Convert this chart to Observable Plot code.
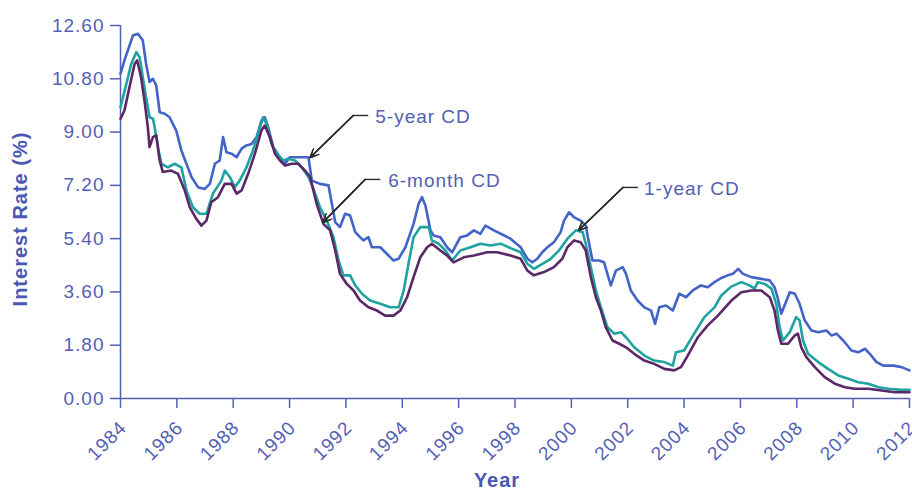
<!DOCTYPE html>
<html>
<head>
<meta charset="utf-8">
<script src="https://cdn.jsdelivr.net/npm/d3@7"></script>
<script src="https://cdn.jsdelivr.net/npm/@observablehq/plot@0.6"></script>
<style>
  html, body { margin: 0; padding: 0; background: #ffffff; }
  #chart { width: 912px; height: 490px; }
  #chart svg text { letter-spacing: 1px; }
</style>
</head>
<body>
<div id="chart"></div>
<script>
// ---- Data ----
const seriesNames = ["5-year CD", "1-year CD", "6-month CD"];
const seriesColors = ["#4264c6", "#1fa3a0", "#5a2866"];

const xTicks = [1984, 1986, 1988, 1990, 1992, 1994, 1996, 1998, 2000, 2002, 2004, 2006, 2008, 2010, 2012];
const yTicks = [0, 1.8, 3.6, 5.4, 7.2, 9.0, 10.8, 12.6];

const fiveYearCD = [
  [1984.0,10.97],[1984.14,11.42],[1984.44,12.26],[1984.62,12.32],[1984.79,12.1],[1984.91,11.3],
  [1985.03,10.69],[1985.15,10.8],[1985.27,10.57],[1985.39,9.67],[1985.57,9.62],[1985.74,9.5],
  [1985.98,9.05],[1986.16,8.38],[1986.34,7.93],[1986.52,7.48],[1986.75,7.14],[1986.99,7.08],
  [1987.17,7.25],[1987.35,7.93],[1987.52,8.04],[1987.64,8.83],[1987.76,8.32],[1987.94,8.27],
  [1988.12,8.15],[1988.3,8.44],[1988.47,8.55],[1988.65,8.6],[1988.83,8.83],[1989.0,9.39],
  [1989.12,9.5],[1989.24,9.17],[1989.42,8.49],[1989.66,8.15],[1989.84,7.93],[1990.01,8.15],
  [1990.31,8.15],[1990.67,8.15],[1990.79,7.36],[1991.08,7.25],[1991.38,7.2],[1991.5,6.58],
  [1991.62,5.96],[1991.79,5.79],[1991.97,6.24],[1992.15,6.18],[1992.33,5.62],[1992.5,5.45],
  [1992.62,5.34],[1992.8,5.45],[1992.92,5.11],[1993.22,5.11],[1993.45,4.89],[1993.69,4.66],
  [1993.87,4.72],[1994.11,5.11],[1994.4,5.9],[1994.58,6.58],[1994.7,6.8],[1994.82,6.52],
  [1995.0,5.68],[1995.11,5.51],[1995.35,5.45],[1995.59,5.11],[1995.77,4.94],[1996.06,5.45],
  [1996.3,5.51],[1996.54,5.68],[1996.77,5.56],[1996.95,5.84],[1997.25,5.68],[1997.55,5.54],
  [1997.84,5.4],[1998.2,5.11],[1998.44,4.72],[1998.62,4.6],[1998.79,4.72],[1998.97,4.94],
  [1999.15,5.11],[1999.38,5.28],[1999.62,5.62],[1999.74,6.01],[1999.92,6.29],[2000.1,6.12],
  [2000.33,6.01],[2000.51,5.84],[2000.63,5.23],[2000.75,4.66],[2000.98,4.66],[2001.16,4.6],
  [2001.4,3.82],[2001.58,4.32],[2001.82,4.44],[2001.94,4.21],[2002.11,3.65],[2002.35,3.31],
  [2002.59,3.08],[2002.83,2.97],[2002.97,2.52],[2003.12,3.08],[2003.36,3.14],[2003.6,2.97],
  [2003.83,3.54],[2004.07,3.42],[2004.31,3.65],[2004.6,3.82],[2004.84,3.76],[2005.08,3.93],
  [2005.32,4.07],[2005.55,4.16],[2005.73,4.21],[2005.92,4.38],[2006.09,4.21],[2006.39,4.1],
  [2006.74,4.04],[2007.04,3.99],[2007.21,3.76],[2007.33,3.37],[2007.45,2.86],[2007.59,3.2],
  [2007.75,3.59],[2007.93,3.54],[2008.1,3.2],[2008.28,2.64],[2008.52,2.3],[2008.76,2.24],
  [2009.05,2.3],[2009.23,2.13],[2009.41,2.19],[2009.65,1.96],[2009.94,1.62],[2010.18,1.56],
  [2010.42,1.68],[2010.59,1.51],[2010.83,1.23],[2011.07,1.11],[2011.43,1.11],[2011.72,1.06],
  [2012.0,0.95]
];

const oneYearCD = [
  [1984.0,9.84],[1984.18,10.52],[1984.38,11.3],[1984.56,11.7],[1984.68,11.53],[1984.79,10.85],
  [1984.91,10.18],[1985.03,9.5],[1985.15,9.45],[1985.21,9.17],[1985.33,8.49],[1985.45,7.93],
  [1985.68,7.81],[1985.92,7.93],[1986.16,7.81],[1986.34,7.03],[1986.57,6.46],[1986.81,6.24],
  [1987.05,6.24],[1987.28,6.92],[1987.58,7.36],[1987.7,7.7],[1987.88,7.48],[1988.06,7.14],
  [1988.23,7.36],[1988.47,7.81],[1988.7,8.38],[1988.88,8.94],[1989.06,9.5],[1989.18,9.28],
  [1989.36,8.6],[1989.54,8.27],[1989.78,8.04],[1989.95,8.1],[1990.19,8.04],[1990.43,7.81],
  [1990.67,7.48],[1990.84,7.1],[1991.08,6.46],[1991.32,6.01],[1991.56,5.45],[1991.74,4.66],
  [1991.91,4.16],[1992.15,4.16],[1992.33,3.82],[1992.57,3.54],[1992.86,3.31],[1993.22,3.2],
  [1993.57,3.08],[1993.87,3.08],[1994.05,3.65],[1994.22,4.55],[1994.4,5.45],[1994.64,5.79],
  [1994.94,5.79],[1995.05,5.34],[1995.29,5.23],[1995.53,5.0],[1995.77,4.66],[1996.06,5.0],
  [1996.42,5.11],[1996.77,5.23],[1997.13,5.17],[1997.49,5.23],[1997.84,5.08],[1998.2,4.94],
  [1998.44,4.55],[1998.67,4.38],[1998.97,4.55],[1999.27,4.72],[1999.56,5.0],[1999.86,5.4],
  [2000.16,5.68],[2000.4,5.62],[2000.51,5.23],[2000.69,4.44],[2000.87,3.65],[2001.05,3.08],
  [2001.28,2.41],[2001.52,2.19],[2001.76,2.24],[2001.94,2.07],[2002.23,1.73],[2002.59,1.45],
  [2002.94,1.28],[2003.3,1.23],[2003.6,1.11],[2003.71,1.56],[2004.0,1.62],[2004.36,2.19],
  [2004.72,2.75],[2005.08,3.08],[2005.32,3.48],[2005.67,3.78],[2006.03,3.93],[2006.32,3.82],
  [2006.5,3.71],[2006.62,3.93],[2006.86,3.87],[2007.1,3.71],[2007.27,3.2],[2007.39,2.41],
  [2007.51,1.96],[2007.75,2.24],[2007.98,2.75],[2008.1,2.64],[2008.22,1.96],[2008.4,1.51],
  [2008.76,1.23],[2009.11,1.0],[2009.47,0.78],[2009.83,0.67],[2010.18,0.55],[2010.54,0.5],
  [2010.9,0.38],[2011.25,0.33],[2011.61,0.3],[2012.0,0.29]
];

const sixMonthCD = [
  [1984.0,9.45],[1984.14,9.73],[1984.32,10.52],[1984.5,11.3],[1984.59,11.42],[1984.73,10.85],
  [1984.85,10.07],[1984.97,9.17],[1985.03,8.49],[1985.15,8.83],[1985.27,8.89],[1985.39,8.04],
  [1985.5,7.65],[1985.8,7.7],[1986.04,7.59],[1986.28,7.03],[1986.46,6.46],[1986.69,6.07],
  [1986.87,5.84],[1987.05,6.01],[1987.22,6.63],[1987.46,6.8],[1987.7,7.25],[1987.94,7.25],
  [1988.12,6.92],[1988.3,7.03],[1988.53,7.59],[1988.77,8.27],[1989.0,9.05],[1989.12,9.22],
  [1989.3,8.83],[1989.48,8.27],[1989.66,8.04],[1989.84,7.87],[1990.08,7.93],[1990.31,7.93],
  [1990.55,7.7],[1990.73,7.48],[1990.96,6.58],[1991.2,5.9],[1991.44,5.68],[1991.62,5.0],
  [1991.79,4.21],[1992.03,3.87],[1992.27,3.65],[1992.5,3.31],[1992.8,3.08],[1993.1,2.97],
  [1993.39,2.8],[1993.69,2.8],[1993.93,2.97],[1994.17,3.42],[1994.4,4.1],[1994.64,4.77],
  [1994.88,5.11],[1995.05,5.23],[1995.35,5.0],[1995.59,4.83],[1995.82,4.6],[1996.18,4.77],
  [1996.54,4.83],[1997.01,4.94],[1997.37,4.94],[1997.84,4.83],[1998.2,4.72],[1998.44,4.32],
  [1998.67,4.16],[1999.03,4.27],[1999.38,4.44],[1999.68,4.72],[1999.86,5.11],[2000.1,5.34],
  [2000.33,5.28],[2000.51,5.0],[2000.69,4.1],[2000.87,3.42],[2001.05,2.97],[2001.22,2.41],
  [2001.46,1.96],[2001.7,1.85],[2001.94,1.73],[2002.23,1.51],[2002.59,1.28],[2002.94,1.17],
  [2003.3,1.0],[2003.65,0.95],[2003.89,1.06],[2004.13,1.45],[2004.49,2.07],[2004.84,2.47],
  [2005.2,2.8],[2005.67,3.3],[2006.03,3.59],[2006.39,3.65],[2006.74,3.65],[2007.04,3.42],
  [2007.21,2.97],[2007.33,2.3],[2007.45,1.85],[2007.69,1.85],[2007.93,2.13],[2008.04,2.19],
  [2008.16,1.73],[2008.34,1.4],[2008.64,1.06],[2008.99,0.72],[2009.35,0.5],[2009.71,0.38],
  [2010.06,0.33],[2010.54,0.33],[2011.01,0.27],[2011.48,0.21],[2012.0,0.21]
];

// Annotation callouts (data coordinates)
const annotationLabels = ["5-year CD", "6-month CD", "1-year CD"];
const annotationTipYear = [1990.73, 1991.19, 2000.26];
const annotationTipRate = [8.14, 5.95, 5.68];
const annotationElbowYear = [1992.26, 1992.68, 2001.83];
const annotationElbowRate = [9.56, 7.40, 7.13];
const annotationLeaderEndYear = [1992.79, 1993.22, 2002.36];
const annotationTextYear = [1993.04, 1993.50, 2002.58];

// ---- Build tables ----
const seriesPoints = [fiveYearCD, oneYearCD, sixMonthCD];
const rows = seriesNames.flatMap((name, i) =>
  seriesPoints[i].map(([year, rate]) => ({series: name, year, rate}))
);
const notes = annotationLabels.map((label, i) => ({
  label,
  tipX: annotationTipYear[i], tipY: annotationTipRate[i],
  elbowX: annotationElbowYear[i], elbowY: annotationElbowRate[i],
  leaderX: annotationLeaderEndYear[i], textX: annotationTextYear[i]
}));

const axisColor = "#5560b4";
const font = "'Liberation Sans', Arial, Helvetica, sans-serif";
const arrowStyle = {x1: "elbowX", y1: "elbowY", x2: "tipX", y2: "tipY", stroke: "#2a2a2a", strokeWidth: 1.4, headAngle: 50};

const chart = Plot.plot({
  width: 912,
  height: 490,
  marginLeft: 120,
  marginRight: 3,
  marginTop: 25,
  marginBottom: 92,
  style: {fontFamily: font, color: axisColor, background: "#ffffff", overflow: "visible"},
  x: {domain: [1984, 2012]},
  y: {domain: [0, 12.6]},
  color: {domain: seriesNames, range: seriesColors},
  marks: [
    Plot.axisY({ticks: yTicks, tickFormat: d => d.toFixed(2), tickSize: 10, tickPadding: 6,
      fontSize: 19, label: null, stroke: axisColor, strokeWidth: 1.5}),
    // tick marks only
    Plot.axisX({ticks: xTicks, tickFormat: () => "", tickSize: 10, label: null,
      stroke: axisColor, strokeWidth: 1.5}),
    // rotated tick labels
    Plot.text(xTicks, {x: d => d, frameAnchor: "bottom", text: d => String(d), rotate: -45,
      textAnchor: "end", lineAnchor: "middle", dx: 3, dy: 26, fontSize: 19, fill: axisColor}),
    Plot.ruleX([1984], {stroke: axisColor, strokeWidth: 1.5}),
    Plot.ruleY([0], {stroke: axisColor, strokeWidth: 1.5}),
    Plot.line(rows, {x: "year", y: "rate", z: "series", stroke: "series", strokeWidth: 2.6, curve: "linear"}),
    Plot.link(notes, {x1: "leaderX", y1: "elbowY", x2: "elbowX", y2: "elbowY", stroke: "#2a2a2a", strokeWidth: 1.4}),
    Plot.arrow(notes, {...arrowStyle, headLength: 10}),
    Plot.arrow(notes, {...arrowStyle, headLength: 7}),
    Plot.arrow(notes, {...arrowStyle, headLength: 4}),
    Plot.text(notes, {x: "textX", y: "elbowY", text: "label", textAnchor: "start", lineAnchor: "middle",
      dy: 1, fontSize: 19, fill: axisColor, fontFamily: font}),
    Plot.text(["Interest Rate (%)"], {frameAnchor: "left", rotate: -90, dx: -100, dy: 7,
      fontSize: 20, fontWeight: "bold", fill: "#4a58b6", textAnchor: "middle", lineAnchor: "middle"}),
    Plot.text(["Year"], {frameAnchor: "bottom", dx: -18, dy: 82, fontSize: 20, fontWeight: "bold",
      fill: "#4a58b6", textAnchor: "middle", lineAnchor: "middle"})
  ]
});

document.getElementById("chart").appendChild(chart);
</script>
</body>
</html>
